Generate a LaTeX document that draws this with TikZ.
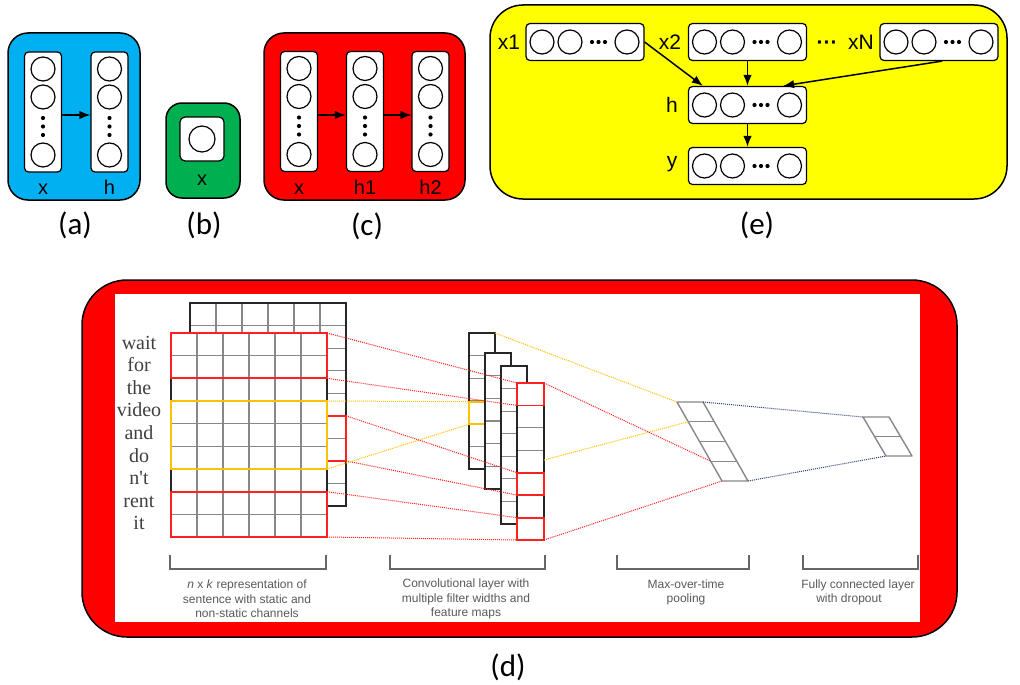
\documentclass[tikz,border=0pt]{standalone}
\usepackage{fontspec}
\setmainfont{Liberation Sans}
\newfontfamily\calibfont{Carlito}
\newfontfamily\wordfont{Liberation Serif}
\usetikzlibrary{arrows.meta,calc}
\definecolor{pblue}{HTML}{00B0F0}
\definecolor{pgreen}{HTML}{00B050}
\definecolor{pred}{HTML}{FF0000}
\definecolor{pyellow}{HTML}{FFFF00}
\definecolor{hlred}{HTML}{FF2020}
\definecolor{hlyel}{HTML}{FFC000}
\definecolor{navyd}{HTML}{2E3F7A}
\definecolor{gridg}{HTML}{888888}
\definecolor{txtg}{HTML}{595959}
\definecolor{wordg}{HTML}{404040}
\tikzset{
  panel/.style={draw=black,line width=1.5pt},
  vcolbox/.style={draw=black,fill=white,rounded corners=4pt,line width=1.2pt,minimum width=37pt,minimum height=120pt,inner sep=0pt},
  hrowbox/.style={draw=black,fill=white,rounded corners=4pt,line width=1.2pt,minimum width=118pt,minimum height=37pt,inner sep=0pt},
  neuron/.style={circle,draw=black,fill=white,line width=1.2pt,minimum size=24pt,inner sep=0pt},
  ndot/.style={circle,fill=black,minimum size=4.2pt,inner sep=0pt},
  arr/.style={-{Latex[length=11pt,width=8.5pt]},line width=1.5pt},
  lab/.style={font=\fontsize{20}{24}\selectfont,inner sep=0pt,anchor=base},
  elab/.style={font=\fontsize{21}{25}\selectfont,inner sep=0pt,anchor=base},
  captxt/.style={font=\calibfont\fontsize{31}{36}\selectfont,inner sep=0pt},
  wordtxt/.style={font=\wordfont\fontsize{20}{24}\selectfont,text=wordg,inner sep=0pt,anchor=base},
  smalltxt/.style={font=\fontsize{12}{14.5}\selectfont,text=txtg,align=center,inner sep=0pt},
  gridl/.style={draw=gridg,line width=1.1pt},
  gridb/.style={draw=black!85,line width=1.4pt},
  hlr/.style={draw=hlred,line width=1.8pt},
  hly/.style={draw=hlyel,line width=1.8pt},
  dotr/.style={draw=hlred,densely dotted,line width=1pt},
  doty/.style={draw=hlyel,densely dotted,line width=1pt},
  dotb/.style={draw=navyd,densely dotted,line width=1pt},
  brk/.style={draw=black!60,line width=1.6pt},
  poolg/.style={draw=gridg,line width=1.4pt,line join=round}
}
\newcommand\vcolumn[4]{%
  \node[vcolbox] (#1) at (#2,#3) {};
  \foreach \dy [count=\i] in {-43,-15,43} \node[neuron] (#1-n\i) at ({#2},{#3+\dy}) {};
  \foreach \dy [count=\i] in {6,14.5,23} \node[ndot] (#1-d\i) at ({#2},{#3+\dy}) {};
  \node[lab] (#1-lab) at ({#2},194) {#4};
}
\newcommand\hrowunit[3]{%
  \node[hrowbox] (#1) at (#2,#3) {};
  \foreach \dx [count=\i] in {-43,-15,42} \node[neuron] (#1-n\i) at ({#2+\dx},{#3}) {};
  \foreach \dx [count=\i] in {7,13.5,20} \node[ndot] (#1-d\i) at ({#2+\dx},{#3}) {};
}
\newcommand\convcol[5]{%
  \fill[white] (#1,#2) rectangle (#3,#4);
  \foreach \k in {1,...,#5} \draw[gridl] (#1,{#2+(#4-#2)*\k/#5}) -- (#3,{#2+(#4-#2)*\k/#5});
  \draw[gridb] (#1,#2) rectangle (#3,#4);
}
\begin{document}
\begin{tikzpicture}[x=1pt,y=-1pt]
\useasboundingbox (0,0) rectangle (1020,685);
% ---------- (a)
\draw[panel,fill=pblue,rounded corners=20pt] (8,33) rectangle (140,200);
\vcolumn{ax}{43}{112}{x}
\vcolumn{ah}{109.5}{112}{h}
\draw[arr] ($(ax.east)+(0,3)$) -- ($(ah.west)+(0,3)$);
\node[captxt] (capa) at (75,225) {(a)};
% ---------- (b)
\draw[panel,fill=pgreen,rounded corners=16pt] (166,103) rectangle (240,198);
\node[draw=black,fill=white,rounded corners=5pt,line width=1.2pt,minimum size=44pt,inner sep=0pt] (bx) at (202,139) {};
\node[neuron,minimum size=26pt] (bx-n1) at (202,139) {};
\node[lab] (bx-lab) at (202,185) {x};
\node[captxt] (capb) at (204,225) {(b)};
% ---------- (c)
\draw[panel,fill=pred,rounded corners=20pt] (264,33) rectangle (465,200);
\vcolumn{cx}{299}{111.5}{x}
\vcolumn{ch1}{365}{111.5}{h1}
\vcolumn{ch2}{430.5}{111.5}{h2}
\draw[arr] ($(cx.east)+(0,3.5)$) -- ($(ch1.west)+(0,3.5)$);
\draw[arr] ($(ch1.east)+(0,3.5)$) -- ($(ch2.west)+(0,3.5)$);
\node[captxt] (capc) at (367,226) {(c)};
% ---------- (e)
\draw[panel,fill=pyellow,rounded corners=33pt] (490,5) rectangle (1007,199);
\hrowunit{ex1}{585}{42}
\hrowunit{ex2}{747.5}{42}
\hrowunit{exN}{939}{42}
\hrowunit{eh}{747.5}{105}
\hrowunit{ey}{747.5}{166}
\node[elab] (ex1-lab) at (509,50) {x1};
\node[elab] (ex2-lab) at (670,50) {x2};
\node[elab] (edots) at (827,50) {\bfseries ···};
\node[elab] (exN-lab) at (861,50) {xN};
\node[elab] (eh-lab) at (672,112) {h};
\node[elab] (ey-lab) at (672,167) {y};
\draw[arr] (ex1.east) -- ($(eh.north west)+(15,0)$);
\draw[arr] (ex2.south) -- (eh.north);
\draw[arr] ($(exN.south)+(3,0)$) -- ($(eh.north east)+(-24,0)$);
\draw[arr] (eh.south) -- (ey.north);
\node[captxt] (cape) at (757,225) {(e)};
% ---------- (d)
\draw[panel,fill=pred,rounded corners=45pt] (82,280) rectangle (957,637);
\fill[white] (115,294) rectangle (920,622);
% back grid
\fill[white] (190,303) rectangle (346,506);
\foreach \i in {1,...,5} \draw[gridl] ({190+26*\i},303) -- ({190+26*\i},506);
\foreach \j in {1,...,8} \draw[gridl] (190,{303+22.556*\j}) -- (346,{303+22.556*\j});
\draw[gridb] (190,303) rectangle (346,506);
\draw[hlr] (327,415.8) rectangle (346,460.9);
% front grid
\fill[white] (171,333) rectangle (327,537);
\foreach \i in {1,...,5} \draw[gridl] ({171+26*\i},333) -- ({171+26*\i},537);
\foreach \j in {1,...,8} \draw[gridl] (171,{333+22.667*\j}) -- (327,{333+22.667*\j});
\draw[gridb] (171,333) rectangle (327,537);
\draw[hlr] (171,333) rectangle (327,378.3);
\draw[hly] (171,401) rectangle (327,469);
\draw[hlr] (171,491.7) rectangle (327,537);
\coordinate (g-r1t) at (327,333);
\coordinate (g-r1b) at (327,378.3);
\coordinate (g-r2t) at (346,415.8);
\coordinate (g-r2b) at (346,460.9);
\coordinate (g-r3t) at (327,491.7);
\coordinate (g-r3b) at (327,537);
\coordinate (g-yt) at (327,401);
\coordinate (g-yb) at (327,469);
% words
\foreach \w/\yy [count=\i] in {wait/349,for/371.6,the/394.2,video/416.8,and/439.4,do/462,n't/484.6,rent/507.2,it/529.8}
  \node[wordtxt] (w\i) at (139,\yy) {\w};
% conv layer
\convcol{469}{333}{495}{469}{6}
\draw[hly] (469,401.7) rectangle (495,424.3);
\convcol{485}{353}{511}{489}{6}
\convcol{501}{366}{527}{524}{7}
\convcol{517}{383}{544}{540}{7}
\draw[hlr] (517,383) rectangle (544,405.4);
\draw[hlr] (517,472.7) rectangle (544,495.1);
\draw[hlr] (517,517.6) rectangle (544,540);
\coordinate (c-r1t) at (517,383);
\coordinate (c-r1b) at (517,405.4);
\coordinate (c-r2t) at (517,472.7);
\coordinate (c-r2b) at (517,495.1);
\coordinate (c-r3t) at (517,517.6);
\coordinate (c-r3b) at (517,540);
\coordinate (c-yt) at (469,401.7);
\coordinate (c-yb) at (469,424.3);
\coordinate (c-ay) at (495,333);
\coordinate (c-dy) at (544,460);
\coordinate (c-dr1) at (544,383);
\coordinate (c-dr3) at (544,540);
% pooling
\coordinate (p-tl) at (677,402);
\coordinate (p-tr) at (703,402);
\coordinate (p-br) at (748,481);
\coordinate (p-bl) at (722,481);
\draw[poolg] (p-tl) -- (p-tr) -- (p-br) -- (p-bl) -- cycle;
\foreach \yy in {421.75,441.5,461.25} \draw[poolg] ({677+(\yy-402)*45/79},\yy) -- ({703+(\yy-402)*45/79},\yy);
\coordinate (p-y2) at (688.25,421.75);
\coordinate (p-r4) at (710.75,461.25);
% fully connected
\coordinate (f-tl) at (863,417);
\coordinate (f-tr) at (889,417);
\coordinate (f-br) at (912,456);
\coordinate (f-bl) at (886,456);
\draw[poolg] (f-tl) -- (f-tr) -- (f-br) -- (f-bl) -- cycle;
\draw[poolg] (874.5,436.5) -- (900.5,436.5);
% dotted connectors
\draw[dotr] (g-r1t) -- (c-r1t);
\draw[dotr] (g-r1b) -- (c-r1b);
\draw[dotr] (g-r2t) -- (c-r2t);
\draw[dotr] (g-r2b) -- (c-r2b);
\draw[dotr] (g-r3t) -- (c-r3t);
\draw[dotr] (g-r3b) -- (c-r3b);
\draw[doty] (g-yt) -- (c-yt);
\draw[doty] (g-yb) -- (c-yb);
\draw[doty] (c-ay) -- (p-tl);
\draw[doty] (c-dy) -- (p-y2);
\draw[dotr] (c-dr1) -- (p-r4);
\draw[dotr] (c-dr3) -- (p-bl);
\draw[dotb] (p-tr) -- (f-tl);
\draw[dotb] (p-br) -- (f-bl);
% brackets
\draw[brk] (170,555) -- (170,569) -- (326,569) -- (326,555);
\draw[brk] (390,555) -- (390,569) -- (545,569) -- (545,555);
\draw[brk] (617,555) -- (617,569) -- (749,569) -- (749,555);
\draw[brk] (803,555) -- (803,569) -- (918,569) -- (918,555);
\node[smalltxt] (t1) at (247,599) {\textit{n} x \textit{k} representation of\\sentence with static and\\non-static channels};
\node[smalltxt] (t2) at (466,599) {Convolutional layer with\\multiple filter widths and\\feature maps};
\node[smalltxt] (t3) at (686,592.5) {Max-over-time\\pooling};
\node[smalltxt] (t4) at (858,592.5) {Fully connected layer\\with dropout\hspace*{18pt}};
\node[captxt] (capd) at (508,667) {(d)};
\end{tikzpicture}
\end{document}
